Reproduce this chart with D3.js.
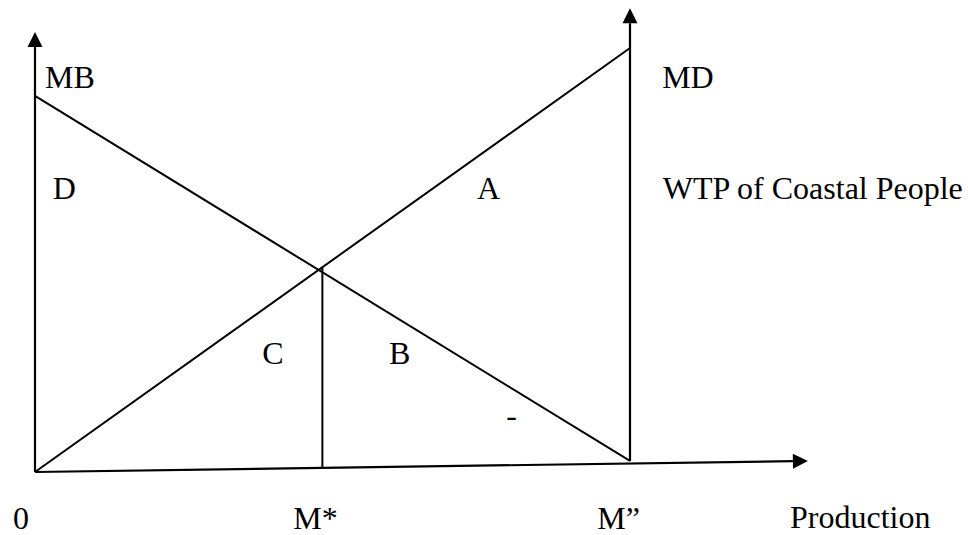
<!DOCTYPE html>
<html>
<head>
<meta charset="utf-8">
<script src="https://cdn.jsdelivr.net/npm/d3@7"></script>
<style>
  body { margin: 0; background: #fff; }
</style>
</head>
<body>
<script>
// quantity (M'' = 100) and price units (MD at M'' = 100)
var mStar = 48.3,
    mMax = 100;
var mbLine = [[0, 88.7], [100, 2.6]];        // marginal benefit
var mdLine = [[0, 0], [100, 100]];           // marginal damage
var xAxisLine = [[0, 0], [129.9, 2.6]];      // production axis, drawn slightly tilted
var yAxisTop = 103.8;
var mMaxTop = 109.4;

var labelText = ["MB", "MD", "D", "A", "WTP of Coastal People", "C", "B", "-", "0", "M*", "M\u201d", "Production"];
var labelQ    = [1.7, 105.4, 3.0, 74.3, 105.5, 38.2, 59.5, 79.2, -3.7, 43.4, 94.5, 126.9];
var labelP    = [90.6, 90.6, 64.4, 64.4, 64.4, 25.5, 25.5, 10.8, -13.4, -13.4, -13.4, -13.2];

var width = 968, height = 535;

var x = d3.scaleLinear().domain([0, 100]).range([35, 630]);
var y = d3.scaleLinear().domain([0, 100]).range([472, 48]);

var svg = d3.select("body").append("svg")
    .attr("width", width)
    .attr("height", height);

var line = d3.line()
    .x(function (d) { return x(d[0]); })
    .y(function (d) { return y(d[1]); });

// line that stops at the base of a filled arrow head
function arrow(from, to) {
    var x0 = x(from[0]), y0 = y(from[1]), x1 = x(to[0]), y1 = y(to[1]);
    var ang = Math.atan2(y1 - y0, x1 - x0),
        len = 15, half = 7.5;
    var bx = x1 - len * Math.cos(ang), by = y1 - len * Math.sin(ang);
    svg.append("line")
        .attr("x1", x0).attr("y1", y0)
        .attr("x2", bx).attr("y2", by)
        .attr("stroke", "#000")
        .attr("stroke-width", 2.2);
    var px = -Math.sin(ang) * half, py = Math.cos(ang) * half;
    svg.append("path")
        .attr("d", "M" + x1 + "," + y1 + "L" + (bx + px) + "," + (by + py) + "L" + (bx - px) + "," + (by - py) + "Z")
        .attr("fill", "#000");
}

arrow([0, 0], [0, yAxisTop]);
arrow(xAxisLine[0], xAxisLine[1]);
arrow([mMax, mbLine[1][1]], [mMax, mMaxTop]);

svg.append("path")
    .datum(mbLine)
    .attr("d", line)
    .attr("fill", "none")
    .attr("stroke", "#000")
    .attr("stroke-width", 2);

svg.append("path")
    .datum(mdLine)
    .attr("d", line)
    .attr("fill", "none")
    .attr("stroke", "#000")
    .attr("stroke-width", 2);

// M* drop line from the crossing down to the axis
var mdAtStar = mdLine[0][1] + (mdLine[1][1] - mdLine[0][1]) * mStar / 100;
var axisAtStar = xAxisLine[0][1] + (xAxisLine[1][1] - xAxisLine[0][1]) * mStar / xAxisLine[1][0];
svg.append("line")
    .attr("x1", x(mStar)).attr("y1", y(mdAtStar))
    .attr("x2", x(mStar)).attr("y2", y(axisAtStar))
    .attr("stroke", "#000")
    .attr("stroke-width", 2);

svg.selectAll("text.label")
    .data(labelText)
    .enter().append("text")
    .attr("class", "label")
    .attr("x", function (d, i) { return x(labelQ[i]); })
    .attr("y", function (d, i) { return y(labelP[i]); })
    .style("font-family", "'Liberation Serif'")
    .style("font-size", "32px")
    .style("fill", "#000")
    .text(function (d) { return d; });
</script>
</body>
</html>
